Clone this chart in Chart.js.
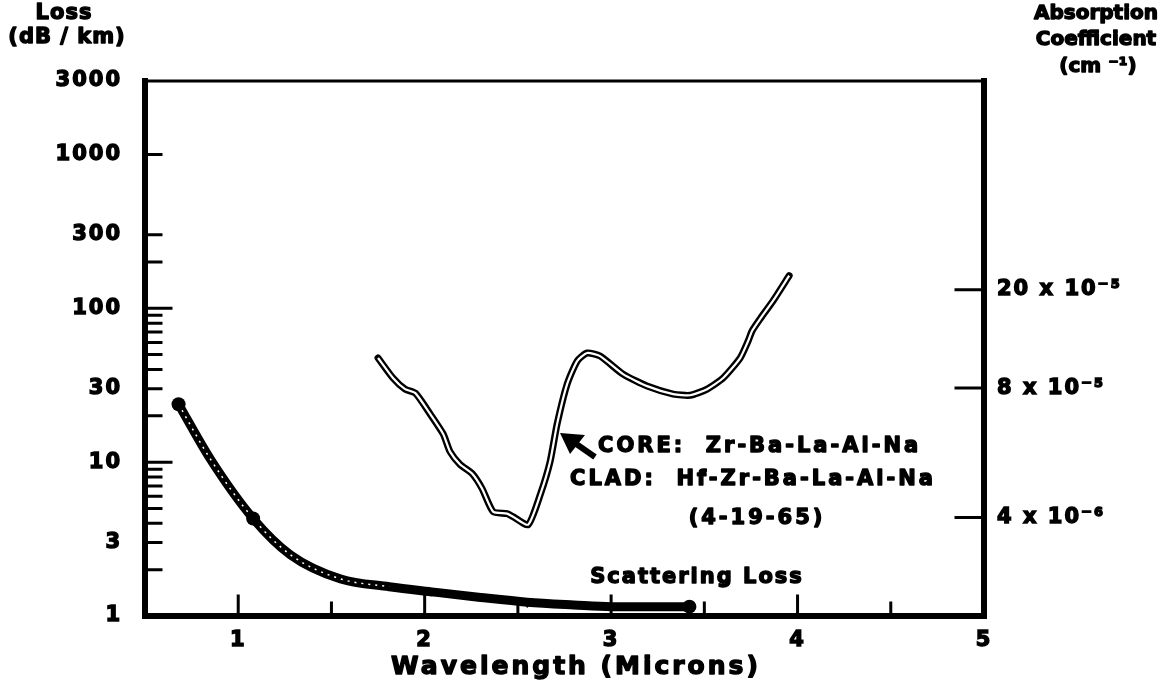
<!DOCTYPE html>
<html>
<head>
<meta charset="utf-8">
<script src="https://cdn.jsdelivr.net/npm/chart.js@4.4.1/dist/chart.umd.min.js"></script>
<style>
  body { margin: 0; background: #fff; }
  #wrap { width: 1164px; height: 693px; }
</style>
</head>
<body>
<div id="wrap"><canvas id="lossChart" width="1164" height="693"></canvas></div>
<script>
// scattering loss curve (wavelength in microns, loss in dB/km)
var scatterX = [0.68, 0.85, 1.08, 1.28, 1.55, 1.81, 2.05, 2.30, 2.55, 2.80, 3.00, 3.42];
var scatterY = [23.8, 10.5, 4.3, 2.5, 1.74, 1.55, 1.43, 1.32, 1.23, 1.18, 1.15, 1.15];

// marked points on the scattering curve
var markX = [0.68, 1.08, 3.42];
var markY = [23.8, 4.3, 1.15];
var triX = [2.55];
var triY = [1.23];

// measured loss, CORE: Zr-Ba-La-Al-Na / CLAD: Hf-Zr-Ba-La-Al-Na
var coreX = [1.75, 1.83, 1.895, 1.95, 2.03, 2.10, 2.136, 2.19, 2.254, 2.308, 2.367, 2.442, 2.474, 2.555,
             2.62, 2.673, 2.71, 2.764, 2.818, 2.871, 2.941, 3.064, 3.193, 3.333, 3.424, 3.515, 3.601,
             3.692, 3.735, 3.756, 3.799, 3.869, 3.955];
var coreY = [47.5, 35.2, 29.8, 28.1, 20.5, 15.2, 11.7, 9.66, 8.44, 6.73, 4.77, 4.63, 4.42, 3.92,
             6.15, 10.1, 17.6, 32.1, 45.4, 51.2, 48.9, 37.3, 31.2, 27.7, 27.2, 29.8, 35.2,
             47.5, 61.3, 71.2, 85.3, 112, 163];

// axes
var xTicks = [1, 2, 3, 4, 5];
var xMinor = [1.5, 2.5, 3.5, 4.5];
var lossTicks = [1, 3, 10, 30, 100, 300, 1000, 3000];
var lossLong = [10, 100];
var lossShort = [2, 3, 4, 5, 6, 7, 8, 9, 20, 30, 40, 50, 60, 70, 80, 90, 200, 300, 1000];
var absorbPos = [4.36, 30.3, 132];
var absorbLabels = ['4 x 10\u207B\u2076', '8 x 10\u207B\u2075', '20 x 10\u207B\u2075'];

var FONT = '"DejaVu Sans", sans-serif';

function pts(xs, ys) {
  return xs.map((v, i) => ({x: v, y: ys[i]}));
}

// fill + stroke so the type looks as heavy as the scan
function heavyText(ctx, s, x, y) {
  ctx.fillText(s, x, y);
  ctx.strokeText(s, x, y);
}

// frame, inward ticks and free text
var framePlugin = {
  id: 'frame',
  beforeDraw(chart) {
    chart.ctx.letterSpacing = '2px';
  },
  afterDraw(chart) {
    var ctx = chart.ctx;
    var a = chart.chartArea;
    var x = chart.scales.x, y = chart.scales.y;
    ctx.save();
    ctx.strokeStyle = '#000';
    ctx.lineCap = 'square';

    // ticks pointing into the plot
    ctx.lineWidth = 3;
    ctx.beginPath();
    xTicks.forEach(v => { var px = x.getPixelForValue(v); ctx.moveTo(px, a.bottom); ctx.lineTo(px, a.bottom - 20); });
    xMinor.forEach(v => { var px = x.getPixelForValue(v); ctx.moveTo(px, a.bottom); ctx.lineTo(px, a.bottom - 13); });
    lossLong.forEach(v => { var py = y.getPixelForValue(v); ctx.moveTo(a.left, py); ctx.lineTo(a.left + 26, py); });
    lossShort.forEach(v => { var py = y.getPixelForValue(v); ctx.moveTo(a.left, py); ctx.lineTo(a.left + 16, py); });
    absorbPos.forEach(v => { var py = y.getPixelForValue(v); ctx.moveTo(a.right, py); ctx.lineTo(a.right - 28, py); });
    ctx.stroke();

    // frame
    ctx.lineWidth = 6;
    ctx.beginPath();
    ctx.moveTo(a.left, a.top);
    ctx.lineTo(a.left, a.bottom);
    ctx.lineTo(a.right, a.bottom);
    ctx.lineTo(a.right, a.top);
    ctx.stroke();
    ctx.lineWidth = 3;
    ctx.beginPath();
    ctx.moveTo(a.left, a.top);
    ctx.lineTo(a.right, a.top);
    ctx.stroke();

    // axis headings
    ctx.fillStyle = '#000';
    ctx.lineWidth = 1.4;
    ctx.lineJoin = 'round';
    ctx.textAlign = 'center';
    ctx.textBaseline = 'middle';
    ctx.font = 'bold 21px ' + FONT;
    ctx.letterSpacing = '1px';
    heavyText(ctx, 'Loss', 64, 14);
    heavyText(ctx, '(dB / km)', 67, 38);
    ctx.font = 'bold 20px ' + FONT;
    ctx.letterSpacing = '0px';
    heavyText(ctx, 'Absorption', 1096, 14);
    heavyText(ctx, 'Coefficient', 1096, 40);
    heavyText(ctx, '(cm \u207B\u00B9)', 1098, 67);

    ctx.font = 'bold 25px ' + FONT;
    ctx.letterSpacing = '3px';
    heavyText(ctx, 'Wavelength (Microns)', 576, 667);

    // curve notes
    ctx.textAlign = 'left';
    ctx.font = 'bold 21px ' + FONT;
    ctx.letterSpacing = '3px';
    heavyText(ctx, 'CORE:  Zr-Ba-La-Al-Na', 598, 447);
    heavyText(ctx, 'CLAD:  Hf-Zr-Ba-La-Al-Na', 570, 480);
    ctx.textAlign = 'center';
    heavyText(ctx, '(4-19-65)', 757, 519);
    ctx.letterSpacing = '2px';
    heavyText(ctx, 'Scattering Loss', 697, 578);

    // arrow to the measured curve
    ctx.lineWidth = 6;
    ctx.lineCap = 'butt';
    ctx.beginPath();
    ctx.moveTo(595, 457);
    ctx.lineTo(572, 441);
    ctx.stroke();
    ctx.beginPath();
    ctx.moveTo(560, 433);
    ctx.lineTo(585, 435);
    ctx.lineTo(570, 454);
    ctx.closePath();
    ctx.fill();
    ctx.restore();
  }
};

var tickFont = { family: FONT, weight: 'bold', size: 21 };

var ctxLoss = document.getElementById('lossChart').getContext('2d');

var lossChart = new Chart(ctxLoss, {
  type: 'line',
  data: {
    datasets: [
      {
        data: pts(markX, markY),
        showLine: false,
        pointRadius: 7,
        pointBackgroundColor: '#000',
        pointBorderWidth: 0,
        order: 0
      },
      {
        data: pts(triX, triY),
        showLine: false,
        pointStyle: 'triangle',
        rotation: 180,
        pointRadius: 6,
        pointBackgroundColor: '#000',
        pointBorderWidth: 0,
        order: 0
      },
      {
        // light streak inside the thick scattering line
        data: pts(scatterX.slice(0, 6), scatterY.slice(0, 6)),
        borderColor: '#fff',
        borderWidth: 1.5,
        borderDash: [2, 5],
        cubicInterpolationMode: 'monotone',
        pointRadius: 0,
        order: 1
      },
      {
        data: pts(scatterX, scatterY),
        borderColor: '#000',
        borderWidth: 9,
        cubicInterpolationMode: 'monotone',
        pointRadius: 0,
        order: 2
      },
      {
        // double line look of the measured curve
        data: pts(coreX, coreY),
        borderColor: '#fff',
        borderWidth: 2.2,
        tension: 0.2,
        pointRadius: 0,
        order: 1
      },
      {
        data: pts(coreX, coreY),
        borderColor: '#000',
        borderWidth: 7,
        tension: 0.2,
        pointRadius: 0,
        borderCapStyle: 'round',
        order: 2
      }
    ]
  },
  options: {
    responsive: false,
    animation: false,
    layout: { padding: { top: 81, left: 0, right: 0, bottom: 0 } },
    plugins: {
      legend: { display: false },
      tooltip: { enabled: false }
    },
    scales: {
      x: {
        type: 'linear',
        min: 0.5,
        max: 5,
        grid: { display: false },
        border: { display: false },
        afterBuildTicks: (s) => { s.ticks = xTicks.map(v => ({value: v})); },
        afterFit: (s) => { s.height = 77; },
        ticks: {
          padding: 4,
          color: '#000',
          textStrokeColor: '#000',
          textStrokeWidth: 1.4,
          font: tickFont
        }
      },
      y: {
        type: 'logarithmic',
        position: 'left',
        min: 1,
        max: 3000,
        grid: { display: false },
        border: { display: false },
        afterBuildTicks: (s) => { s.ticks = lossTicks.map(v => ({value: v})); },
        afterFit: (s) => { s.width = 145; },
        ticks: {
          padding: 15,
          color: '#000',
          textStrokeColor: '#000',
          textStrokeWidth: 1.4,
          font: tickFont,
          callback: (v) => String(v)
        }
      },
      y2: {
        type: 'logarithmic',
        position: 'right',
        min: 1,
        max: 3000,
        grid: { display: false },
        border: { display: false },
        afterBuildTicks: (s) => { s.ticks = absorbPos.map(v => ({value: v})); },
        afterFit: (s) => { s.width = 180; },
        ticks: {
          padding: 5,
          color: '#000',
          textStrokeColor: '#000',
          textStrokeWidth: 1.4,
          font: tickFont,
          callback: (v, i) => absorbLabels[i]
        }
      }
    }
  },
  plugins: [framePlugin]
});
</script>
</body>
</html>
